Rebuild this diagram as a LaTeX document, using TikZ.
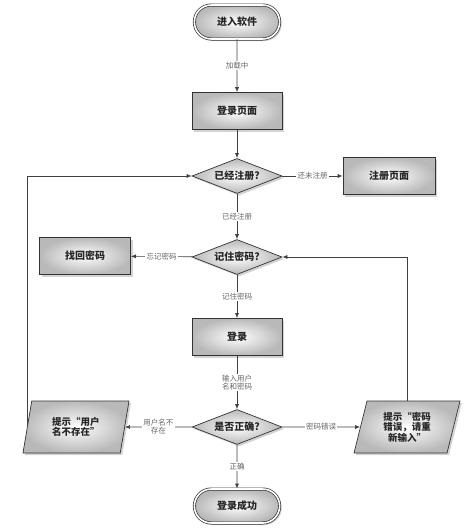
\documentclass[tikz,border=0pt]{standalone}
\usepackage{fontspec}
\newfontfamily\cjk{Noto Sans CJK SC}
\usetikzlibrary{shapes.geometric,shapes.misc,arrows.meta,shadows}
\begin{document}
\begin{tikzpicture}[x=1pt,y=-1pt,
  base/.style={shade,inner color=white,outer color=gray!55,draw=black!80,line width=0.7pt,
    font=\cjk\bfseries\fontsize{10}{12}\selectfont,text=black!85,
    drop shadow={shadow xshift=2pt,shadow yshift=-2pt,opacity=0.35}},
  procbox/.style={base,rectangle,minimum width=90pt,minimum height=37pt},
  termbox/.style={base,rounded rectangle,minimum width=92pt,minimum height=34pt,
    double=white,double distance=1.6pt},
  decbox/.style={base,diamond,aspect=2.5,inner sep=0.5pt,minimum width=90pt,minimum height=35pt},
  iobox/.style={base,trapezium,trapezium left angle=68,trapezium right angle=112,
    trapezium stretches body,minimum width=106pt,minimum height=52pt,align=center,
    inner sep=1pt,font=\cjk\bfseries\fontsize{9.5}{10.5}\selectfont},
  lbl/.style={fill=white,inner sep=1.2pt,text=black!60,align=center,
    font=\cjk\fontsize{7.5}{8}\selectfont},
  arr/.style={draw=black!75,line width=0.7pt,-{Latex[length=5pt,width=4pt]}},
  ln/.style={draw=black!75,line width=0.7pt}]
\useasboundingbox (0,0) rectangle (473,528);

\node[termbox] (start) at (237,22) {进入软件};
\node[procbox] (login) at (237,111) {登录页面};
\node[decbox] (d1) at (237,176) {已经注册?};
\node[procbox,minimum width=92pt] (reg) at (389,176) {注册页面};
\node[decbox] (d2) at (237,257) {记住密码?};
\node[procbox,minimum width=91pt] (find) at (85,256) {找回密码};
\node[procbox] (dl) at (237,337) {登录};
\node[decbox] (d3) at (237,427) {是否正确?};
\node[iobox] (lp) at (76,427) {提示“用户\\名不存在”};
\node[iobox] (rp) at (407,427) {提示“密码\\错误，请重\\新输入”};
\node[termbox] (end) at (237,506) {登录成功};

\draw[arr] (start) -- node[lbl] {加载中} (login);
\draw[arr] (login) -- (d1);
\draw[arr] (d1) -- node[lbl] {还未注册} (reg);
\draw[arr] (d1) -- node[lbl] {已经注册} (d2);
\draw[arr] (d2) -- node[lbl] {忘记密码} (find);
\draw[arr] (d2) -- node[lbl] {记住密码} (dl);
\draw[arr] (dl) -- node[lbl] {输入用户\\名和密码} (d3);
\draw[arr] (d3) -- node[lbl] {用户名不\\存在} (lp);
\draw[arr] (d3) -- node[lbl] {密码错误} (rp);
\draw[arr] (d3) -- node[lbl] {正确} (end);
\draw[arr] (lp.west) |- (d1.west);
\draw[arr] (rp.north) |- (d2.east);
\end{tikzpicture}
\end{document}
